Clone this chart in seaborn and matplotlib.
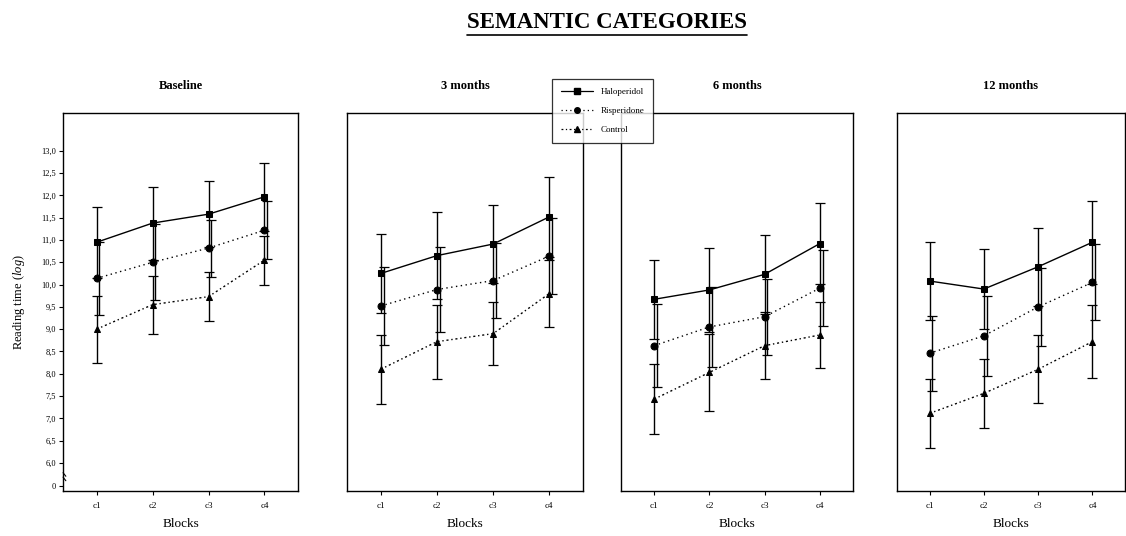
import matplotlib
matplotlib.use('Agg')
import matplotlib.pyplot as plt
import numpy as np
import pandas as pd
import seaborn as sns

# values (reading time, log scale)
BLOCKS = ['c1', 'c2', 'c3', 'c4']
PANELS = ['Baseline', '3 months', '6 months', '12 months']
GROUPS = ['Haloperidol', 'Risperidone', 'Control']

haloperidol = [[10.95, 11.38, 11.58, 11.97],
               [10.25, 10.65, 10.91, 11.52],
               [9.67, 9.88, 10.23, 10.92],
               [10.08, 9.90, 10.40, 10.95]]
haloperidol_err = [[0.80, 0.82, 0.74, 0.76],
                   [0.88, 0.98, 0.87, 0.90],
                   [0.89, 0.95, 0.88, 0.90],
                   [0.87, 0.90, 0.88, 0.93]]
risperidone = [[10.14, 10.50, 10.82, 11.22],
               [9.52, 9.89, 10.09, 10.64],
               [8.63, 9.05, 9.28, 9.92],
               [8.46, 8.85, 9.50, 10.05]]
risperidone_err = [[0.82, 0.85, 0.64, 0.65],
                   [0.87, 0.96, 0.85, 0.85],
                   [0.93, 0.90, 0.85, 0.85],
                   [0.84, 0.90, 0.87, 0.85]]
control = [[9.00, 9.55, 9.73, 10.55],
           [8.10, 8.72, 8.90, 9.80],
           [7.43, 8.03, 8.63, 8.87],
           [7.11, 7.56, 8.10, 8.72]]
control_err = [[0.75, 0.65, 0.55, 0.55],
               [0.77, 0.83, 0.70, 0.76],
               [0.78, 0.86, 0.75, 0.74],
               [0.78, 0.78, 0.76, 0.82]]

Y_TICKS = [6.0, 6.5, 7.0, 7.5, 8.0, 8.5, 9.0, 9.5, 10.0, 10.5, 11.0, 11.5, 12.0, 12.5, 13.0]

sns.set_theme(style='white')
plt.rcParams['font.family'] = ['Liberation Serif', 'DejaVu Serif']
plt.rcParams['mathtext.fontset'] = 'custom'
plt.rcParams['mathtext.it'] = 'Liberation Serif:italic'
plt.rcParams['mathtext.rm'] = 'Liberation Serif'
for key in ['text.color', 'axes.labelcolor', 'xtick.color', 'ytick.color']:
    plt.rcParams[key] = 'black'

rows = []
for p, panel in enumerate(PANELS):
    for g, (vals, errs) in enumerate([(haloperidol, haloperidol_err),
                                      (risperidone, risperidone_err),
                                      (control, control_err)]):
        for b, block in enumerate(BLOCKS):
            rows.append({'Panel': panel, 'Group': GROUPS[g], 'pos': b,
                         'value': vals[p][b], 'err': errs[p][b]})
df = pd.DataFrame(rows)

markers = {'Haloperidol': 's', 'Risperidone': 'o', 'Control': '^'}
dashes = {'Haloperidol': '', 'Risperidone': (1, 2.5), 'Control': (1.5, 2, 1, 2)}
err_offset = {'Haloperidol': 0.0, 'Risperidone': 0.05, 'Control': 0.0}

fig = plt.figure(figsize=(11.26, 5.36), dpi=100)
positions = [(0.0560, 0.084, 0.2087, 0.7052),
             (0.3082, 0.084, 0.2096, 0.7052),
             (0.5515, 0.084, 0.2060, 0.7052),
             (0.7966, 0.084, 0.2025, 0.7052)]

for i, panel in enumerate(PANELS):
    ax = fig.add_axes(positions[i])
    sub = df[df['Panel'] == panel]
    for grp in GROUPS:
        s = sub[sub['Group'] == grp]
        ax.errorbar(s['pos'] + err_offset[grp], s['value'], yerr=s['err'],
                    fmt='none', ecolor='black', elinewidth=1.0, capsize=3.5,
                    capthick=0.9, zorder=2)
    sns.lineplot(data=sub, x='pos', y='value', style='Group', style_order=GROUPS,
                 markers=markers, dashes=dashes, color='black', markersize=5,
                 markeredgecolor='black', linewidth=1.0, ax=ax, legend=False,
                 zorder=3)
    ax.set_xlim(-0.6, 3.6)
    ax.set_ylim(5.37, 13.85)
    ax.set_xticks(range(len(BLOCKS)))
    ax.set_xticklabels(BLOCKS, fontsize=6.5)
    ax.tick_params(axis='x', length=3, width=0.8, color='black', direction='out',
                   bottom=True, pad=5)
    ax.set_xlabel('Blocks', fontsize=9.5, labelpad=6)
    ax.set_title(panel, fontsize=9, fontweight='bold', pad=17)
    for sp in ax.spines.values():
        sp.set_color('black')
        sp.set_linewidth(1.0)
    if i == 0:
        ax.set_yticks(Y_TICKS + [5.48])
        ax.set_yticklabels([f'{t:.1f}'.replace('.', ',') for t in Y_TICKS] + ['0'],
                           fontsize=6)
        ax.tick_params(axis='y', length=3, width=0.8, color='black', direction='out',
                       left=True, pad=2)
        ax.set_ylabel(r'Reading time ($\it{log}$)', fontsize=9, labelpad=10)
        # axis break mark
        ax.plot([-0.6, -0.55], [5.78, 5.70], color='black', lw=0.8, clip_on=False)
        ax.plot([-0.6, -0.55], [5.68, 5.60], color='black', lw=0.8, clip_on=False)
    else:
        ax.set_yticks([])
        ax.set_ylabel('')

# legend
handles = [plt.Line2D([], [], color='black', marker=markers[g], markersize=4,
                      linestyle='-' if g == 'Haloperidol' else (0, dashes[g]),
                      linewidth=0.9) for g in GROUPS]
leg = fig.legend(handles, GROUPS, loc='upper left', bbox_to_anchor=(0.490, 0.853),
                 fontsize=6.5, frameon=True, fancybox=False, edgecolor='black',
                 handlelength=3.6, labelspacing=1.2, borderpad=1.0,
                 borderaxespad=0)
leg.get_frame().set_linewidth(0.9)

title = fig.text(0.539, 0.958, 'SEMANTIC CATEGORIES', ha='center', va='center',
                 fontsize=16.5, fontweight='bold')
fig.canvas.draw()
bb = title.get_window_extent().transformed(fig.transFigure.inverted())
fig.add_artist(plt.Line2D([bb.x0, bb.x1], [bb.y0 - 0.004, bb.y0 - 0.004],
                          color='black', lw=1.2))

fig.savefig('out.png', dpi=100)
